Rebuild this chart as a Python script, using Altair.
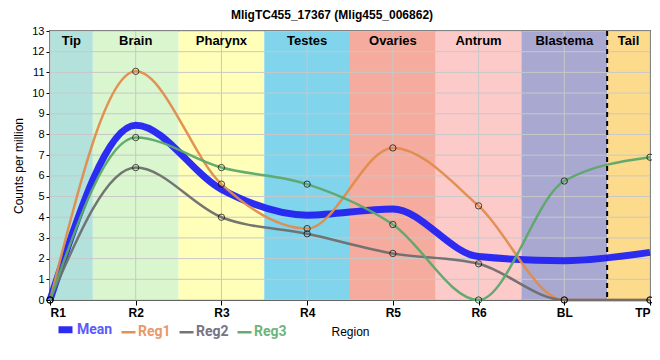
import altair as alt
import pandas as pd

title_text = "MligTC455_17367 (Mlig455_006862)"

regions = ["R1", "R2", "R3", "R4", "R5", "R6", "BL", "TP"]
mean = [0, 8.45, 5.35, 4.1, 4.4, 2.1, 1.9, 2.3]
reg1 = [0, 11.05, 5.6, 3.45, 7.35, 4.55, 0, 0]
reg2 = [0, 6.4, 4.0, 3.2, 2.25, 1.75, 0, 0]
reg3 = [0, 7.85, 6.4, 5.6, 3.65, 0, 5.75, 6.9]

band_names = ["Tip", "Brain", "Pharynx", "Testes", "Ovaries", "Antrum", "Blastema", "Tail"]
band_start = [0, 0.5, 1.5, 2.5, 3.5, 4.5, 5.5, 6.5]
band_end = [0.5, 1.5, 2.5, 3.5, 4.5, 5.5, 6.5, 7]
band_colors = ["#b3e2dd", "#d9f6cf", "#ffffb9", "#80d4ec", "#f5ab9d", "#fdcaca", "#a9a8d0", "#fddb8c"]

series_names = ["Mean", "Reg1", "Reg2", "Reg3"]
series_colors = ["#2222f2", "#e08c4c", "#6e6e6e", "#5ca86a"]
series_widths = [7, 2.5, 2.5, 2.5]
label_colors = ["#5a5aff", "#e9986c", "#747484", "#6cb67c"]

y_ticks = list(range(0, 14))

rows = []
for name, vals in zip(series_names, [mean, reg1, reg2, reg3]):
    for i, (r, v) in enumerate(zip(regions, vals)):
        rows.append({"series": name, "idx": i, "region": r, "value": v})
df = pd.DataFrame(rows)

bands = pd.DataFrame({"name": band_names, "x0": band_start, "x1": band_end,
                      "mid": [(a + b) / 2 for a, b in zip(band_start, band_end)]})

xscale = alt.Scale(domain=[0, 7], nice=False, zero=False)
yscale = alt.Scale(domain=[0, 13], nice=False)

label_expr = "[" + ",".join("'%s'" % r for r in regions) + "][datum.value]"

x_axis = alt.Axis(values=list(range(len(regions))), labelExpr=label_expr, grid=False,
                  title="Region", labelFontWeight="bold", labelFontSize=12, labelColor="black",
                  titleFontWeight="normal", titleFontSize=12, titlePadding=8,
                  domainColor="black", tickColor="black", tickSize=5, labelPadding=2,
                  labelOverlap=False)
y_axis = alt.Axis(values=y_ticks, grid=False, title="Counts per million",
                  labelFontSize=11, labelColor="black", titleFontWeight="normal",
                  titleFontSize=12, domainColor="black", tickColor="black", tickSize=4,
                  titlePadding=6, labelOverlap=False)

rects = alt.Chart(bands).mark_rect().encode(
    x=alt.X("x0:Q", scale=xscale, axis=x_axis),
    x2="x1:Q",
    y=alt.value(0),
    y2=alt.value(269),
    fill=alt.Fill("name:N", scale=alt.Scale(domain=band_names, range=band_colors), legend=None),
)

grid_y = alt.Chart(pd.DataFrame({"v": y_ticks})).mark_rule(color="#c8c8c8", strokeWidth=1).encode(
    y=alt.Y("v:Q", scale=yscale, axis=y_axis)
)
grid_x = alt.Chart(pd.DataFrame({"v": list(range(len(regions)))})).mark_rule(color="#c8c8c8", strokeWidth=1).encode(
    x=alt.X("v:Q", scale=xscale, axis=x_axis)
)

band_text = alt.Chart(bands).mark_text(fontWeight="bold", fontSize=13, color="black", baseline="middle").encode(
    x=alt.X("mid:Q", scale=xscale, axis=x_axis),
    y=alt.value(10),
    text="name:N",
)

dash = alt.Chart(pd.DataFrame({"v": [band_start[7]]})).mark_rule(color="black", strokeWidth=2, strokeDash=[5, 4]).encode(
    x=alt.X("v:Q", scale=xscale, axis=x_axis)
)

color_expr = "".join("datum.label == '%s' ? '%s' : " % (n, c) for n, c in zip(series_names[:-1], label_colors[:-1])) + "'%s'" % label_colors[-1]

lines = alt.Chart(df).mark_line(interpolate="monotone", strokeCap="butt").encode(
    x=alt.X("idx:Q", scale=xscale, axis=x_axis),
    y=alt.Y("value:Q", scale=yscale, axis=y_axis),
    stroke=alt.Stroke("series:N", scale=alt.Scale(domain=series_names, range=series_colors),
                      legend=alt.Legend(orient="none", legendX=5, legendY=288, direction="horizontal",
                                        title=None, symbolType="stroke", symbolSize=196,
                                        labelFontSize=14, labelFont="Roboto", labelFontWeight="bold",
                                        labelColor={"expr": color_expr},
                                        columnPadding=3, labelOffset=1)),
    strokeWidth=alt.StrokeWidth("series:N", scale=alt.Scale(type="ordinal", domain=series_names, range=series_widths)),
    opacity=alt.value(0.95),
)

points = alt.Chart(df[df.series != "Mean"]).mark_point(filled=False, color="black", size=40, strokeWidth=1).encode(
    x=alt.X("idx:Q", scale=xscale, axis=x_axis),
    y=alt.Y("value:Q", scale=yscale, axis=y_axis),
)

title_mark = alt.Chart(pd.DataFrame({"t": [title_text]})).mark_text(
    fontSize=12, fontWeight="bold", font="Liberation Sans", color="black", baseline="middle", align="center"
).encode(x=alt.value(282), y=alt.value(-16), text="t:N")

chart = alt.layer(rects, grid_y, grid_x, band_text, dash, lines, points, title_mark).properties(
    width=600, height=269,
    autosize=alt.AutoSizeParams(type="none"),
    padding={"left": 42, "top": 23, "right": 2, "bottom": 60},
).configure(font="Liberation Sans").configure_view(stroke="black", strokeWidth=1.5)

chart.save("out.html", embed_options={"renderer": "svg", "actions": False})
